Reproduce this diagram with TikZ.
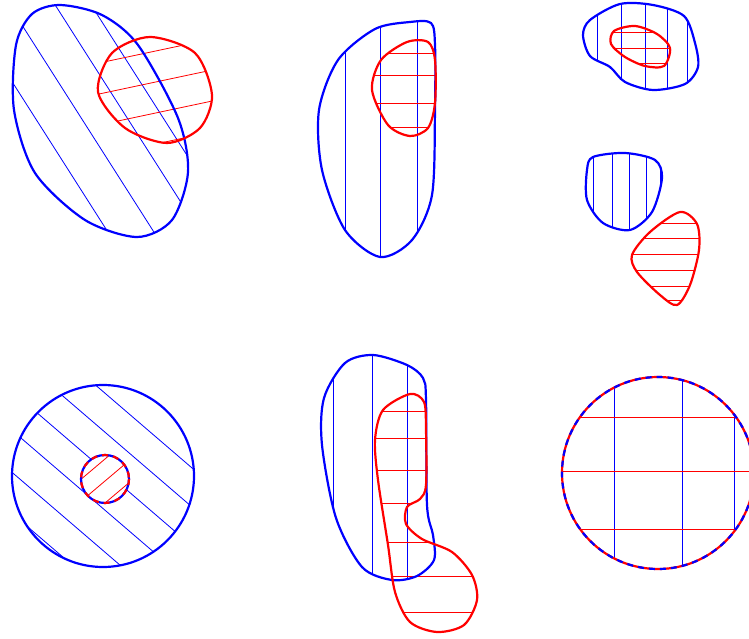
\documentclass[tikz,border=0pt]{standalone}
\tikzset{
  blueline/.style={draw=blue,line width=2.2pt},
  redline/.style={draw=red,line width=2.2pt},
  bluehatch/.style={draw=blue,line width=0.8pt},
  redhatch/.style={draw=red,line width=0.8pt},
  dashbits/.style={dash pattern=on 6pt off 5pt}
}
\begin{document}
\begin{tikzpicture}[x=1pt,y=-1pt,line join=round]
\useasboundingbox (0,0) rectangle (749,639);
% outlines
\def\ba{plot[smooth cycle] coordinates {(60,5) (102,15) (138,45) (178,118) (188,172) (172,220) (137,237) (85,220) (35,173) (14,110) (16,45) (32,14)}}
\def\ra{plot[smooth cycle] coordinates {(150,37) (195,53) (212,95) (200,128) (167,143) (125,128) (98,92) (112,53)}}
\def\bb{plot[smooth cycle] coordinates {(410,22) (431,23) (435,45) (435,110) (432,195) (412,240) (380,257) (345,230) (322,170) (319,110) (338,60) (375,29)}}
\def\rb{plot[smooth cycle] coordinates {(407,42) (428,42) (435,60) (435,103) (428,128) (410,136) (388,125) (372,90) (381,60)}}
\def\bc{plot[smooth cycle] coordinates {(590,20) (620,4) (653,5) (684,16) (695,43) (698,67) (685,84) (653,90) (625,82) (610,67) (590,56) (583,35)}}
\def\rc{plot[smooth cycle] coordinates {(614,31) (635,26) (657,34) (670,48) (664,66) (645,66) (625,57) (611,44)}}
\def\bd{plot[smooth cycle] coordinates {(593,157) (625,153) (655,160) (662,178) (652,212) (630,230) (603,223) (587,200) (587,170)}}
\def\rd{plot[smooth cycle] coordinates {(680,212) (697,224) (699,250) (690,285) (677,305) (660,295) (637,272) (632,255) (650,232)}}
\def\be{plot[smooth cycle] coordinates {(373,355) (407,365) (423,378) (426,400) (427,505) (433,535) (434,560) (417,576) (392,580) (362,567) (336,518) (322,445) (324,398) (345,363)}}
\def\re{plot[smooth cycle] coordinates {(410,394) (424,402) (426,430) (426,485) (420,499) (407,507) (406,524) (422,539) (452,552) (472,575) (477,600) (464,625) (437,632) (410,622) (395,592) (388,545) (378,480) (375,440) (383,410)}}

% top left
\begin{scope}
\clip \ba;
\foreach \a in {-40,6,52,88}
\draw[bluehatch](\a,0)--++(160,251);
\end{scope}
\begin{scope}
\clip \ra;
\foreach \b in {84,115,146,177}
\draw[redhatch](0,\b)--++(250,-53);
\end{scope}
\draw[blueline] \ba;
\draw[redline] \ra;

% top middle
\begin{scope}
\clip \bb;
\foreach \x in {345,380,417}
\draw[bluehatch](\x,0)--(\x,270);
\end{scope}
\begin{scope}
\clip \rb;
\foreach \y in {53,75,103,127}
\draw[redhatch](350,\y)--(445,\y);
\end{scope}
\draw[blueline] \bb;
\draw[redline] \rb;

% top right
\begin{scope}
\clip \bc;
\foreach \x in {597,621,645,667,687}
\draw[bluehatch](\x,0)--(\x,100);
\end{scope}
\begin{scope}
\clip \rc;
\foreach \y in {32,48,63}
\draw[redhatch](600,\y)--(680,\y);
\end{scope}
\draw[blueline] \bc;
\draw[redline] \rc;

% middle right
\begin{scope}
\clip \bd;
\foreach \x in {593,612,629,646,660}
\draw[bluehatch](\x,140)--(\x,240);
\end{scope}
\begin{scope}
\clip \rd;
\foreach \y in {223,238,254,270,286,300}
\draw[redhatch](620,\y)--(710,\y);
\end{scope}
\draw[blueline] \bd;
\draw[redline] \rd;

% bottom left
\begin{scope}
\clip (103,476) circle (91);
\foreach \b in {303,342,381,420,462,503}
\draw[bluehatch](0,\b)--++(220,189);
\end{scope}
\fill[white](105,479)circle(24);
\begin{scope}
\clip (105,479) circle (24);
\foreach \c in {547,569,591}
\draw[redhatch](60,\c-50)--++(90,-76);
\end{scope}
\draw[blueline](103,476)circle(91);
\draw[blueline](105,479)circle(24);
\draw[redline,dashbits](105,479)circle(24);

% bottom middle
\begin{scope}
\clip \be;
\foreach \x in {333,372,407}
\draw[bluehatch](\x,340)--(\x,600);
\end{scope}
\begin{scope}
\clip \re;
\foreach \y in {411,438,470,503,542,576,612}
\draw[redhatch](360,\y)--(490,\y);
\end{scope}
\draw[blueline] \be;
\draw[redline] \re;

% bottom right
\begin{scope}
\clip (658,473) circle (96);
\foreach \x in {614,682,734}
\draw[bluehatch](\x,370)--(\x,580);
\foreach \y in {417,471,529}
\draw[redhatch](550,\y)--(760,\y);
\end{scope}
\draw[redline](658,473)circle(96);
\draw[blueline,dashbits](658,473)circle(96);
\end{tikzpicture}
\end{document}
